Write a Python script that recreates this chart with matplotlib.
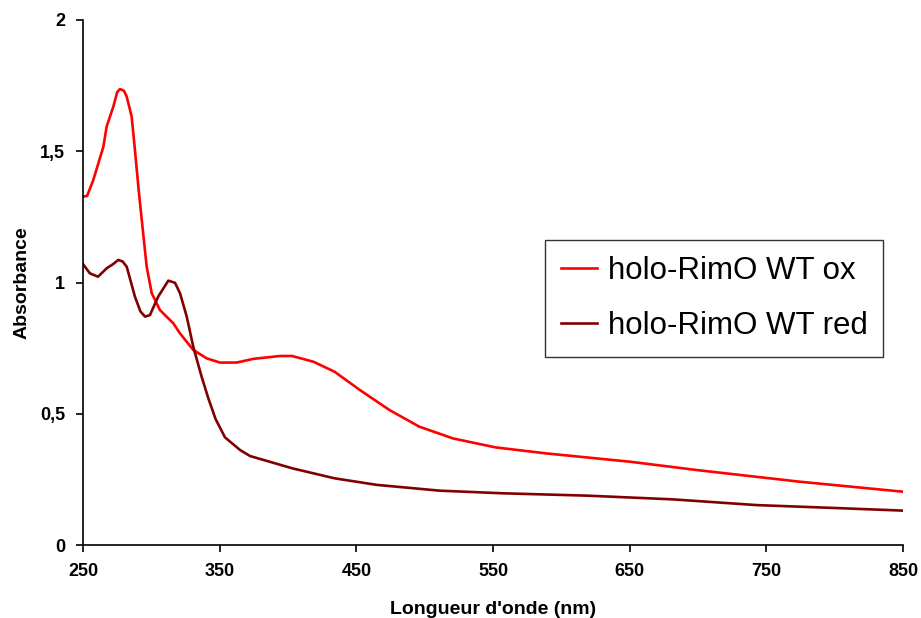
import matplotlib
matplotlib.use("Agg")
import matplotlib.pyplot as plt

# --- data ---
wl_ox = [250, 253, 257.5, 261, 264.9, 267.3, 272.2, 275, 277.1, 280, 282, 285.6, 288, 290.5, 293,
         296.6, 300.3, 306.3, 316, 321, 330.7, 340.5, 350.2, 362.4, 374.6, 394, 403, 418.7,
         434.1, 452.7, 474.3, 496, 520.7, 551.7, 588.8, 650.7, 700, 774.6, 850]
abs_ox = [1.327, 1.33, 1.39, 1.45, 1.517, 1.594, 1.67, 1.725, 1.737, 1.73, 1.708, 1.632, 1.505, 1.365,
          1.238, 1.06, 0.959, 0.895, 0.845, 0.806, 0.743, 0.711, 0.695, 0.695, 0.709, 0.72, 0.72,
          0.698, 0.66, 0.59, 0.514, 0.451, 0.406, 0.372, 0.349, 0.317, 0.285, 0.241, 0.203]

wl_red = [250, 255, 261, 267.3, 272, 275.8, 279, 282, 288, 292, 295.4, 299, 305, 312.4, 317.3,
          321, 325.9, 330.7, 336.8, 341.7, 347, 353.9, 364.9, 372.2, 403.2, 434.1, 465, 511,
          557, 619, 681, 743, 805, 850]
abs_red = [1.07, 1.035, 1.022, 1.054, 1.07, 1.086, 1.08, 1.06, 0.946, 0.89, 0.87, 0.876, 0.946,
           1.007, 0.999, 0.959, 0.87, 0.755, 0.641, 0.559, 0.48, 0.41, 0.362, 0.339, 0.292,
           0.254, 0.229, 0.207, 0.197, 0.188, 0.174, 0.152, 0.14, 0.131]

series_labels = ["holo-RimO WT ox", "holo-RimO WT red"]
x_ticks = [250, 350, 450, 550, 650, 750, 850]
y_ticks = [0, 0.5, 1, 1.5, 2]
y_tick_labels = ["0", "0,5", "1", "1,5", "2"]

plt.rcParams['font.family'] = ['Liberation Sans', 'DejaVu Sans']

fig = plt.figure(figsize=(9.21, 6.18), dpi=100)
ax = fig.add_axes([83/921, 1 - 545/618, (903-83)/921, (545-20)/618])

ax.plot(wl_ox, abs_ox, color='#FF0000', lw=1.9, label=series_labels[0])
ax.plot(wl_red, abs_red, color='#800000', lw=1.9, label=series_labels[1])

ax.set_xlim(250, 850)
ax.set_ylim(0, 2)
ax.set_xticks(x_ticks)
ax.set_xticklabels([str(t) for t in x_ticks], fontsize=13, fontweight='bold')
ax.set_yticks(y_ticks)
ax.set_yticklabels(y_tick_labels, fontsize=13, fontweight='bold')
ax.tick_params(direction='out', length=5, width=1.2, pad=8, colors='black')

for s in ['top', 'right']:
    ax.spines[s].set_visible(False)
for s in ['left', 'bottom']:
    ax.spines[s].set_linewidth(1.2)

ax.set_xlabel("Longueur d'onde (nm)", fontsize=14, fontweight='bold', labelpad=15)
ax.set_ylabel("Absorbance", fontsize=14, fontweight='bold', labelpad=7)

leg = ax.legend(loc='upper left', bbox_to_anchor=(545/921, 1 - 240/618),
                bbox_transform=fig.transFigure, fontsize=22.5, frameon=True,
                fancybox=False, edgecolor='black', handlelength=1.15,
                borderpad=0.5, labelspacing=0.82, handletextpad=0.35, borderaxespad=0)
leg.get_frame().set_linewidth(1.0)

fig.savefig("out.png", dpi=100)
